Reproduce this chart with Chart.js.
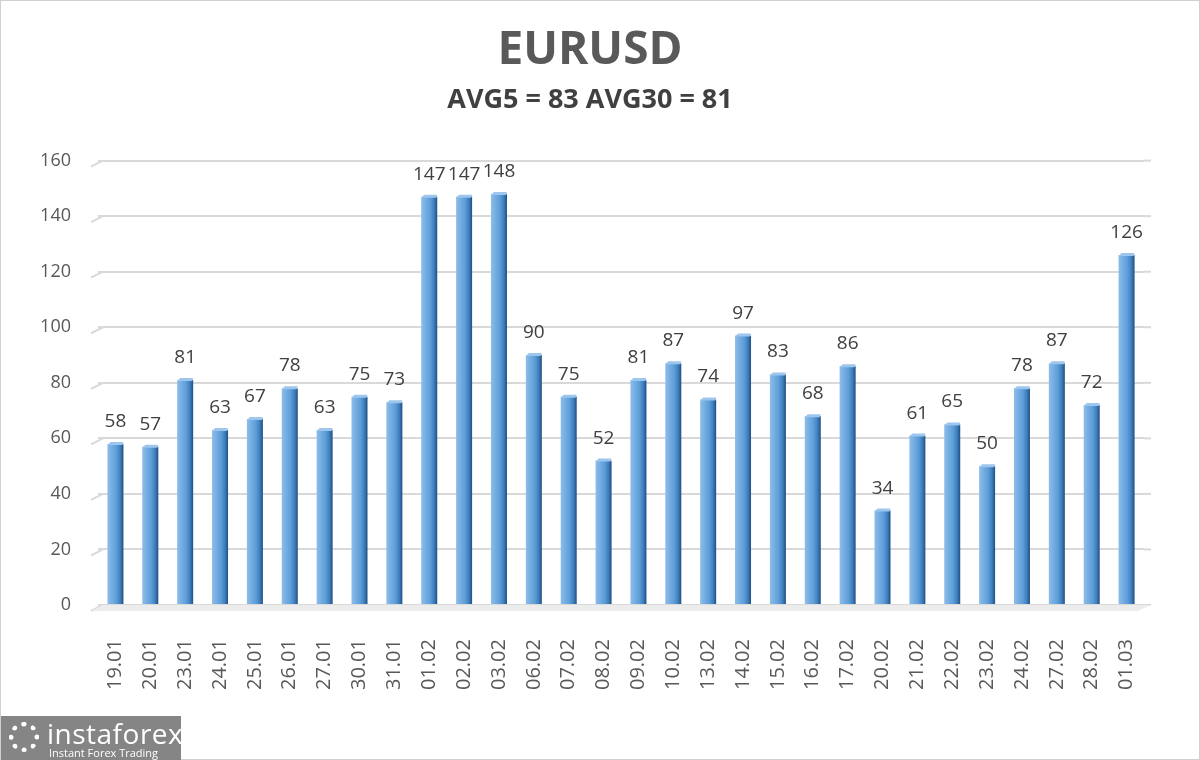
<!DOCTYPE html>
<html>
<head>
<meta charset="utf-8">
<script src="https://cdn.jsdelivr.net/npm/chart.js@4.4.1/dist/chart.umd.min.js"></script>
<style>
html,body{margin:0;padding:0;background:#fff;}
#wrap{position:relative;width:1200px;height:760px;box-sizing:border-box;border:1px solid #d0d0d0;}
#c{position:absolute;left:0;top:0;}
#logo{position:absolute;left:0;top:715px;width:180px;height:45px;background:#858585;color:#fff;font-family:'Open Sans',sans-serif;}
#logo .gear{position:absolute;left:8px;top:6px;width:30px;height:30px;border-radius:50%;border:5px dotted #fff;box-sizing:border-box;}
#logo .name{position:absolute;left:46px;top:0px;font-size:28px;letter-spacing:0.5px;line-height:34px;}
#logo .tag{position:absolute;left:48px;top:30px;font-size:11px;line-height:13px;}
</style>
</head>
<body>
<div id="wrap">
<canvas id="c" width="1200" height="760"></canvas>
<div id="logo"><div class="gear"></div><div class="name">instaforex</div><div class="tag">Instant Forex Trading</div></div>
</div>
<script>
// ── DATA ─────────────────────────────────────────────────
const days = ['19.01','20.01','23.01','24.01','25.01','26.01','27.01','30.01','31.01','01.02','02.02','03.02','06.02','07.02','08.02','09.02','10.02','13.02','14.02','15.02','16.02','17.02','20.02','21.02','22.02','23.02','24.02','27.02','28.02','01.03'];
const ranges = [58,57,81,63,67,78,63,75,73,147,147,148,90,75,52,81,87,74,97,83,68,86,34,61,65,50,78,87,72,126];
const yTicks = [0,20,40,60,80,100,120,140,160];
const titleText = 'EURUSD';
const subText = 'AVG5 = 83 AVG30 = 81';

// ── 3D-ish bars + value labels ──────────────────────────
const bar3d = {
    id:'bar3d',
    beforeDatasetsDraw(chart){
        const {ctx,chartArea,scales} = chart;
        const y = scales.y;
        ctx.save();
        // slanted left part of the gridlines, and a little run past the right edge
        ctx.strokeStyle='#d9d9d9';ctx.lineWidth=2;
        yTicks.forEach(v=>{
            const py=y.getPixelForValue(v);
            ctx.beginPath();ctx.moveTo(chartArea.left-7,py+6);ctx.lineTo(chartArea.left+5,py);ctx.stroke();
            ctx.beginPath();ctx.moveTo(chartArea.right,py);ctx.lineTo(chartArea.right+7,py);ctx.stroke();
        });
        // floor
        const py0=y.getPixelForValue(0);
        ctx.fillStyle='#ececec';
        ctx.beginPath();
        ctx.moveTo(chartArea.left+5,py0);ctx.lineTo(chartArea.right+7,py0);
        ctx.lineTo(chartArea.right-6,py0+6);ctx.lineTo(chartArea.left-7,py0+6);
        ctx.closePath();ctx.fill();
        ctx.restore();
    },
    afterDatasetsDraw(chart){
        const {ctx} = chart;
        const meta = chart.getDatasetMeta(0);
        ctx.save();
        meta.data.forEach((b,i)=>{
            const w=b.width, l=b.x-w/2, r=b.x+w/2, t=b.y, bt=b.base;
            const g=ctx.createLinearGradient(l,0,r,0);
            g.addColorStop(0,'#8dbdea');g.addColorStop(0.55,'#5e9ed9');g.addColorStop(0.8,'#3f7fbd');g.addColorStop(1,'#1f4f82');
            ctx.fillStyle=g;
            ctx.fillRect(l,t,w,bt-t);
            // top cap
            ctx.fillStyle='#9cc6ee';
            ctx.beginPath();ctx.moveTo(l,t+1);ctx.lineTo(l+3,t-2);ctx.lineTo(r,t-2);ctx.lineTo(r-1,t+1);ctx.closePath();ctx.fill();
            // value
            ctx.fillStyle='#404040';
            ctx.font='19px "Open Sans", sans-serif';
            ctx.textAlign='center';ctx.textBaseline='alphabetic';
            ctx.fillText(String(ranges[i]),b.x,t-17);
        });
        ctx.restore();
    }
};

new Chart(document.getElementById('c'),{
    type:'bar',
    data:{labels:days,datasets:[{data:ranges,backgroundColor:'rgba(0,0,0,0)',barPercentage:0.9,categoryPercentage:0.51}]},
    options:{
        responsive:false,animation:false,
        layout:{padding:{left:35,right:57,top:10,bottom:45}},
        plugins:{
            legend:{display:false},tooltip:{enabled:false},
            title:{display:true,text:titleText,color:'#595959',font:{family:'Open Sans',size:46,weight:'bold'},padding:{top:12,bottom:6}},
            subtitle:{display:true,text:subText,color:'#404040',font:{family:'Open Sans',size:27,weight:'bold'},padding:{top:0,bottom:44}}
        },
        scales:{
            x:{grid:{display:false},border:{display:false},
               ticks:{color:'#595959',font:{family:'Open Sans',size:20},maxRotation:90,minRotation:90,autoSkip:false,padding:26}},
            y:{min:0,max:160,border:{display:false},
               grid:{color:'#d9d9d9',lineWidth:2,drawTicks:false},
               afterBuildTicks:ax=>{ax.ticks=yTicks.map(v=>({value:v}));},
               afterFit:ax=>{ax.width=62;},
               ticks:{color:'#595959',font:{family:'Open Sans',size:18},padding:27}}
        }
    },
    plugins:[bar3d]
});
</script>
</body>
</html>
